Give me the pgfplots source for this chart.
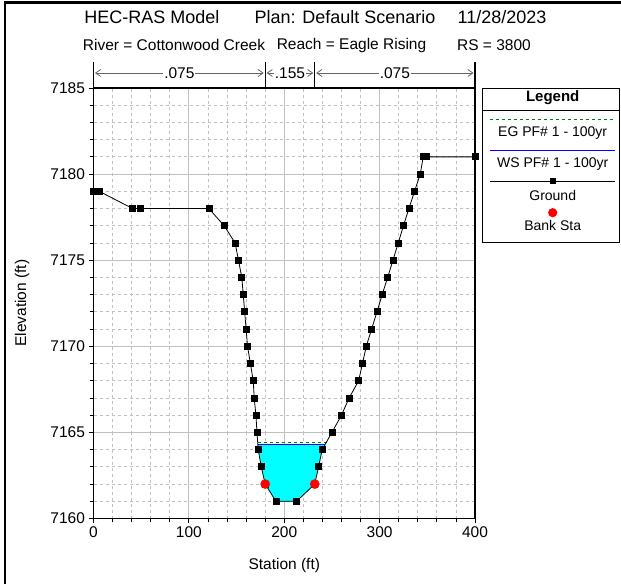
\documentclass[border=0pt]{standalone}
\usepackage{pgfplots}
\pgfplotsset{compat=1.18}
\usepackage{pgfplotstable}
\usepackage{fontspec}
\setmainfont{Liberation Sans}
\usetikzlibrary{arrows.meta}

\pgfplotstableread{
x y
0 7179
2.5 7179
6 7179
41 7178
49 7178
121 7178
137 7177
148.5 7176
152 7175
155.5 7174
157 7173
158.5 7172
160 7171
161.5 7170
164.5 7169
167.5 7168
168.5 7167
170.3 7166
171.4 7165
172.7 7164
175.9 7163
180 7162
191.3 7161
213 7161
232 7162
236 7163
239.8 7164
250 7165
260 7166
268 7167
278 7168
282 7169
286 7170
291.6 7171
297.2 7172
302.7 7173
308.4 7174
314 7175
319.5 7176
325 7177
330.7 7178
336.6 7179
342.6 7180
345.7 7181
349.3 7181
400 7181
}\ground

\definecolor{gridgray}{RGB}{192,192,192}
\definecolor{egreen}{RGB}{0,128,0}
\definecolor{arrgray}{RGB}{100,100,100}
\definecolor{wcyan}{RGB}{0,255,255}
\definecolor{wblue}{RGB}{0,0,255}
\definecolor{bred}{RGB}{255,0,0}

\begin{document}
\begin{tikzpicture}[x=1pt,y=1pt]
\useasboundingbox (0,0) rectangle (621,584);
\draw[line width=2.5pt] (5,0) -- (5,581.5) -- (621,581.5);

% titles
\node[font=\fontsize{18}{21}\selectfont] at (152,567) {HEC-RAS Model};
\node[font=\fontsize{18}{21}\selectfont] at (345,567) {Plan: Default Scenario};
\node[font=\fontsize{18}{21}\selectfont] at (502,567) {11/28/2023};
\node[font=\fontsize{15.5}{18}\selectfont] at (174,539) {River = Cottonwood Creek};
\node[font=\fontsize{15.5}{18}\selectfont] at (351.5,539) {Reach = Eagle Rising};
\node[font=\fontsize{15.5}{18}\selectfont] at (494,539) {RS = 3800};

\begin{axis}[
  at={(93.5pt,65.5pt)}, anchor=south west, scale only axis,
  width=381.5pt, height=430.5pt,
  xmin=0, xmax=400, ymin=7160, ymax=7185,
  xtick={0,100,200,300,400}, ytick={7160,7165,7170,7175,7180,7185},
  minor x tick num=4, minor y tick num=4,
  grid=both,
  major grid style={gridgray, line width=0.8pt},
  minor grid style={gridgray, dashed, line width=0.8pt},
  tick align=outside, tick pos=left,
  major tick length=5pt, minor tick length=4pt,
  every tick/.style={black, line width=0.8pt},
  axis line style={line width=1.1pt},
  ticklabel style={font=\fontsize{15.5}{18}\selectfont},
  /pgf/number format/assume math mode=true,
  /pgf/number format/1000 sep={},
  xlabel={Station (ft)}, ylabel={Elevation (ft)},
  label style={font=\fontsize{15.5}{18}\selectfont},
  xlabel style={at={(axis description cs:0.5,-0.108)}, anchor=center},
  ylabel style={at={(axis description cs:-0.1874,0.5)}, anchor=center},
  clip=false,
]
\addplot[fill=wcyan, draw=none] coordinates {
 (172.25,7164.32) (172.7,7164) (175.9,7163) (180,7162) (191.3,7161) (213,7161)
 (232,7162) (236,7163) (239.8,7164) (243.1,7164.32)} -- cycle;
\addplot[egreen, dashed, line width=1pt] coordinates {(172.1,7164.44) (244.3,7164.44)};
\addplot[wblue, line width=1pt] coordinates {(172.25,7164.32) (243.1,7164.32)};
\addplot[black, line width=0.8pt, mark=square*, mark size=3pt, mark options={solid}] table {\ground};
\addplot[only marks, mark=*, bred, mark size=4.6pt] coordinates {(180,7162) (232,7162)};

% Manning's n header
\draw[line width=1.2pt] (axis cs:0,7185) -- ++(0pt,26pt);
\draw[line width=1.2pt] (axis cs:180,7185) -- ++(0pt,26pt);
\draw[line width=0.8pt] (axis cs:232,7185) -- ++(0pt,26pt);
\draw[line width=1.2pt] (axis cs:400,7185) -- ++(0pt,26pt);
\draw[arrgray, line width=0.8pt, {Straight Barb[length=5pt,width=7pt]}-{Straight Barb[length=5pt,width=7pt]}]
  ([xshift=1.5pt,yshift=15pt]axis cs:0,7185) -- ([xshift=-1.5pt,yshift=15pt]axis cs:180,7185)
  node[midway, fill=white, inner sep=1pt, text=black, font=\fontsize{15.5}{18}\selectfont] {.075};
\draw[arrgray, line width=0.8pt, {Straight Barb[length=5pt,width=7pt]}-{Straight Barb[length=5pt,width=7pt]}]
  ([xshift=1.5pt,yshift=15pt]axis cs:180,7185) -- ([xshift=-1.5pt,yshift=15pt]axis cs:232,7185)
  node[midway, fill=white, inner sep=0.5pt, text=black, font=\fontsize{15.5}{18}\selectfont] {.155};
\draw[arrgray, line width=0.8pt, {Straight Barb[length=5pt,width=7pt]}-{Straight Barb[length=5pt,width=7pt]}]
  ([xshift=1.5pt,yshift=15pt]axis cs:232,7185) -- ([xshift=-1.5pt,yshift=15pt]axis cs:400,7185)
  node[midway, fill=white, inner sep=1pt, text=black, font=\fontsize{15.5}{18}\selectfont] {.075};
\end{axis}

% legend
\draw[line width=1pt] (482.7,495) rectangle (619,341);
\draw[line width=0.8pt] (482.7,473.3) -- (619,473.3);
\node[font=\bfseries\fontsize{15}{18}\selectfont] at (552.7,486.5) {Legend};
\draw[egreen, dashed, line width=0.8pt] (490,464.7) -- (615,464.7);
\node[font=\fontsize{14}{17}\selectfont] at (552.7,450.7) {EG PF\# 1 - 100yr};
\draw[wblue, line width=0.8pt] (490,433.3) -- (615,433.3);
\node[font=\fontsize{14}{17}\selectfont] at (552.7,420) {WS PF\# 1 - 100yr};
\draw[black, line width=0.8pt] (490,403) -- (615,403);
\fill[black] (549.7,400) rectangle (555.7,406);
\node[font=\fontsize{14}{17}\selectfont] at (552.7,389) {Ground};
\fill[bred] (552.7,371.3) circle (4.6pt);
\node[font=\fontsize{14}{17}\selectfont] at (552.7,358.3) {Bank Sta};
\end{tikzpicture}
\end{document}
